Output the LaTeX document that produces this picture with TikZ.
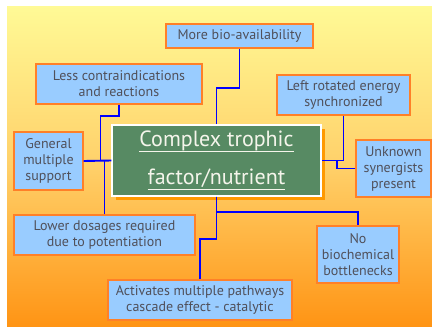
\documentclass[tikz,border=0pt]{standalone}
\usepackage{fontspec}
\setmainfont{PT Sans}
\definecolor{boxfill}{RGB}{153,204,255}
\definecolor{boxedge}{RGB}{255,128,40}
\definecolor{boxtext}{RGB}{80,80,90}
\definecolor{centfill}{RGB}{87,138,99}
\definecolor{centtext}{RGB}{245,245,235}
\definecolor{shadoworange}{RGB}{255,153,0}
\definecolor{bgtop}{RGB}{255,250,150}
\definecolor{bgmid}{RGB}{255,208,105}
\definecolor{bgbot}{RGB}{255,148,20}
\definecolor{linkblue}{RGB}{0,0,255}
\newcommand\myul[1]{\setbox0\hbox{#1}\rlap{\vrule height -4pt depth 5.5pt width \wd0}\box0}
\begin{document}
\begin{tikzpicture}[x=1pt,y=-1pt,
  infobox/.style={draw=boxedge,line width=1.3pt,fill=boxfill,text=boxtext,align=center,
    inner sep=0pt,font=\fontsize{14}{16}\selectfont},
  centbox/.style={draw=white,line width=1.1pt,fill=centfill,text=centtext,align=center,
    inner sep=0pt,minimum width=209pt,minimum height=71pt,font=\fontsize{22}{38}\selectfont},
  link/.style={draw=linkblue,line width=1.9pt}]
\useasboundingbox (0,0) rectangle (432,327);
\fill[white] (0,0) rectangle (432,327);
\shade[top color=bgtop,bottom color=bgbot,middle color=bgmid] (7,6) rectangle (432,327);
% shadow of central box
\fill[shadoworange] (116,129) rectangle (325,199.5);
\node[centbox] (c) at (216.5,160.5) {\myul{Complex trophic}\\\myul{factor/nutrient}};
\node[infobox,minimum width=147pt,minimum height=24pt] (more) at (239.5,36) {More bio-availability};
\node[infobox,minimum width=166pt,minimum height=40pt] (less) at (119,84) {Less contraindications\\and reactions};
\node[infobox,minimum width=133pt,minimum height=40pt] (left) at (343.5,95) {Left rotated energy\\synchronized};
\node[infobox,minimum width=69pt,minimum height=58pt] (gen) at (48.5,161) {General\\multiple\\support};
\node[infobox,minimum width=75pt,minimum height=57pt] (unk) at (393.5,168.5) {Unknown\\synergists\\present};
\node[infobox,minimum width=181pt,minimum height=40pt] (lower) at (104.5,235) {Lower dosages required\\due to potentiation};
\node[infobox,minimum width=82pt,minimum height=57pt] (no) at (358,254.5) {No\\biochemical\\bottlenecks};
\node[infobox,minimum width=184pt,minimum height=40pt] (act) at (200,300) {Activates multiple pathways\\cascade effect - catalytic};
% connectors
\draw[link] (more.south) -- ++(0,39) -| (c.north);
\draw[link] (less.south) -- ++(0,11) -| ([xshift=-11pt]c.west) -- (c.west);
\draw[link] (gen.east) -- (c.west);
\draw[link] (lower.north) |- (c.west);
\draw[link] (left.south) |- (c.east);
\draw[link] (unk.west) -- ++(-18,0) |- (c.east);
\draw[link] (c.south) -- ++(0,15) -| (no.north);
\draw[link] (c.south) -- ++(0,42) -| (act.north);
\end{tikzpicture}
\end{document}
